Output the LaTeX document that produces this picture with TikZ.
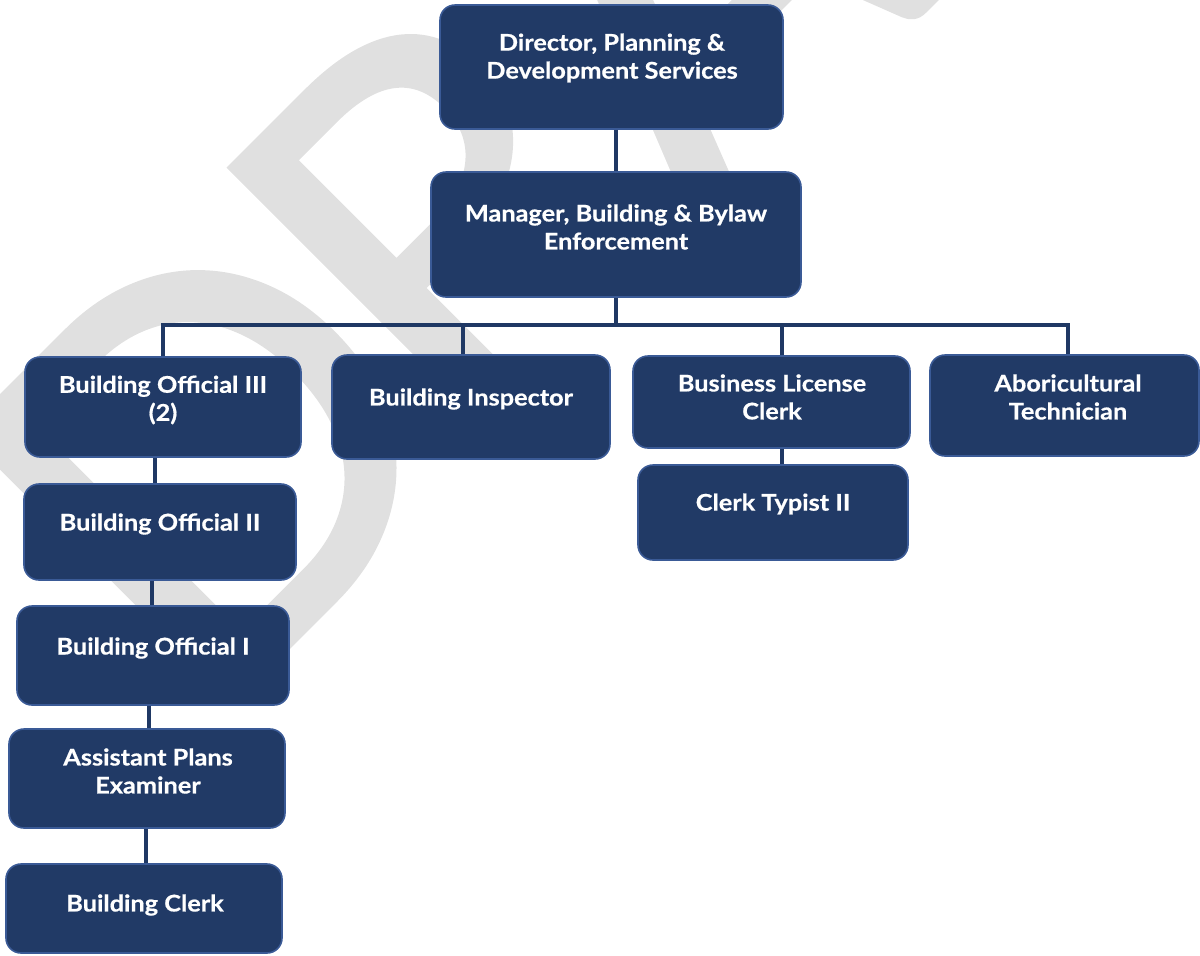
\documentclass[tikz,border=0pt]{standalone}
\usepackage{fontspec}
\setmainfont{Lato}
\newfontfamily\labelfont{Lato}[FakeStretch=1.1, BoldFeatures={FakeBold=0.6}]
\newfontfamily\markfont{Lato}[FakeBold=1]
\usetikzlibrary{fit}
\definecolor{navy}{HTML}{213A66}
\definecolor{edgeblue}{HTML}{3A5A96}
\definecolor{linkblue}{HTML}{1F3864}
\definecolor{wmgray}{HTML}{E0E0E0}
\begin{document}
\begin{tikzpicture}[x=0.5pt,y=-0.5pt,
  orgbox/.style={draw=edgeblue, line width=0.8pt, fill=navy, rounded corners=7.5pt, inner sep=0pt},
  boxtext/.style={text=white, font=\labelfont\bfseries\fontsize{11.5}{14}\selectfont, align=center, inner sep=0pt},
  link/.style={draw=linkblue, line width=2pt, line join=miter},
  watermark/.style={text=wmgray, font=\markfont\fontsize{265}{265}\selectfont, rotate=45, anchor=base west, inner sep=0pt}]
\useasboundingbox (0,0) rectangle (1200,955);

% faint diagonal watermark behind the chart
\node[watermark] (wm) at (200,735) {D\kern-15pt RAFT};

% boxes
\node[orgbox, fit={(440,5)(783,129)}] (dir) {};
\node[orgbox, fit={(431,172)(801,297)}] (mgr) {};
\node[orgbox, fit={(25,357)(301,457)}] (bo3) {};
\node[orgbox, fit={(332,355)(610,459)}] (insp) {};
\node[orgbox, fit={(633,356)(910,448)}] (blc) {};
\node[orgbox, fit={(930,355)(1199,456)}] (abo) {};
\node[orgbox, fit={(638,465)(908,560)}] (ct) {};
\node[orgbox, fit={(24,484)(296,580)}] (bo2) {};
\node[orgbox, fit={(17,606)(289,705)}] (bo1) {};
\node[orgbox, fit={(9,729)(285,828)}] (ape) {};
\node[orgbox, fit={(6,864)(282,953)}] (bc) {};

% labels
\node[boxtext] (dirT) at (612,58) {Director, Planning \&\\Development Services};
\node[boxtext] (mgrT) at (616,227) {Manager, Building \& Bylaw\\Enforcement};
\node[boxtext] (bo3T) at (163,400) {Building Official III\\(2)};
\node[boxtext] (inspT) at (471,399) {Building Inspector};
\node[boxtext] (blcT) at (772,397) {Business License\\Clerk};
\node[boxtext] (aboT) at (1068,397) {Aboricultural\\Technician};
\node[boxtext] (ctT) at (773,504) {Clerk Typist II};
\node[boxtext] (bo2T) at (160,524) {Building Official II};
\node[boxtext] (bo1T) at (153,648) {Building Official I};
\node[boxtext] (apeT) at (148,771) {Assistant Plans\\Examiner};
\node[boxtext] (bcT) at (145,905) {Building Clerk};

% reporting lines
\coordinate (busL) at (163,325);
\coordinate (busR) at (1068,325);
\coordinate (d2) at (463,325);
\coordinate (d3) at (782,325);
\coordinate (c1) at (155,0);
\coordinate (c2) at (152,0);
\coordinate (c3) at (149,0);
\coordinate (c4) at (146,0);

\draw[link] (dir.south -| mgr.north) -- (mgr.north);
\draw[link] (mgr.south) -- (mgr.south |- busL);
\draw[link] (bo3.north -| busL) -- (busL) -- (busR) -- (abo.north -| busR);
\draw[link] (d2) -- (insp.north -| d2);
\draw[link] (d3) -- (blc.north -| d3);
\draw[link] (blc.south -| d3) -- (ct.north -| d3);
\draw[link] (bo3.south -| c1) -- (bo2.north -| c1);
\draw[link] (bo2.south -| c2) -- (bo1.north -| c2);
\draw[link] (bo1.south -| c3) -- (ape.north -| c3);
\draw[link] (ape.south -| c4) -- (bc.north -| c4);
\end{tikzpicture}
\end{document}
